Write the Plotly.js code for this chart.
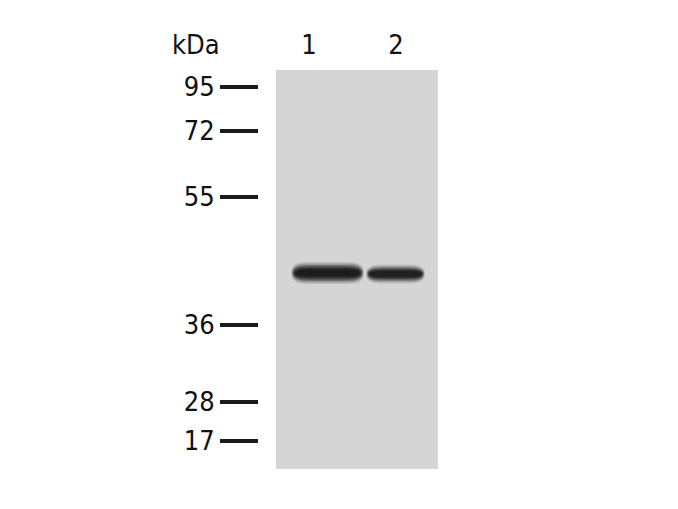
<!DOCTYPE html>
<html>
<head>
<meta charset="utf-8">
<script src="https://cdn.plot.ly/plotly-3.0.1.min.js"></script>
<style>
  body { margin: 0; background: #fff; }
  #blot { width: 678px; height: 509px; }
</style>
</head>
<body>
<div id="blot"></div>
<script>
// marker ladder: kDa and migration distance (px from top of membrane)
let marker_kda = ["95", "72", "55", "36", "28", "17"];
let marker_pos = [17, 61, 127, 255, 332, 371];

// lanes and the detected band in each
let lane_names = ["1", "2"];
let lane_x = [1, 2];
let band_center = [1.213, 1.994];
let band_width = [0.84, 0.68];
let band_pos = [203, 204];
let band_height = [22, 19];
let band_strength = [1.0, 0.9];

let membrane_len = 399;

function bandPath(xc, w, yc, h) {
    let x0 = xc - w / 2, x1 = xc + w / 2;
    let y0 = yc - h / 2, y1 = yc + h / 2;
    let r = Math.min(0.17, w / 4);
    return "M" + (x0 + r) + "," + y0 +
        " L" + (x1 - r) + "," + y0 +
        " Q" + x1 + "," + y0 + " " + x1 + "," + yc +
        " Q" + x1 + "," + y1 + " " + (x1 - r) + "," + y1 +
        " L" + (x0 + r) + "," + y1 +
        " Q" + x0 + "," + y1 + " " + x0 + "," + yc +
        " Q" + x0 + "," + y0 + " " + (x0 + r) + "," + y0 + " Z";
}

let shapes = [{
    type: 'rect', xref: 'paper', yref: 'paper',
    x0: 0.095, x1: 1, y0: 0, y1: 1,
    fillcolor: '#d5d5d5', line: { width: 0 }, layer: 'below'
}];

// soft edged bands, a few stacked layers each
let layers = [
    { wk: 1.0, hk: 1.0, op: 0.12 },
    { wk: 0.98, hk: 0.86, op: 0.2 },
    { wk: 0.96, hk: 0.72, op: 0.32 },
    { wk: 0.94, hk: 0.58, op: 0.45 },
    { wk: 0.91, hk: 0.44, op: 0.6 },
    { wk: 0.87, hk: 0.3, op: 0.6 }
];
for (let i = 0; i < lane_names.length; ++i) {
    layers.forEach(function (l) {
        shapes.push({
            type: 'path', xref: 'x', yref: 'y',
            path: bandPath(band_center[i], band_width[i] * l.wk, band_pos[i], band_height[i] * l.hk),
            fillcolor: 'rgba(20,20,20,' + (l.op * band_strength[i]) + ')',
            line: { width: 0 }
        });
    });
}

let ladder = {
    x: marker_pos.map(function () { return 0.5; }),
    y: marker_pos,
    mode: 'markers',
    marker: { opacity: 0 },
    hoverinfo: 'skip',
    showlegend: false
};

let label_font = { family: 'DejaVu Sans Condensed, DejaVu Sans, Liberation Sans, sans-serif', size: 27, color: '#111' };

let layout = {
    width: 678,
    height: 509,
    margin: { l: 259, r: 240, t: 70, b: 40 },
    paper_bgcolor: '#fff',
    plot_bgcolor: '#fff',
    showlegend: false,
    xaxis: {
        range: [0.425, 2.483],
        side: 'top',
        tickvals: lane_x,
        ticktext: lane_names,
        ticks: '',
        ticklabelstandoff: 10,
        showgrid: false, zeroline: false, showline: false,
        tickfont: label_font,
        fixedrange: true
    },
    yaxis: {
        range: [membrane_len, 0],
        tickvals: marker_pos,
        ticktext: marker_kda,
        ticks: 'outside',
        ticklen: 38,
        tickwidth: 4,
        tickcolor: '#1a1a1a',
        showgrid: false, zeroline: false, showline: false,
        tickfont: label_font,
        fixedrange: true
    },
    shapes: shapes,
    annotations: [{
        xref: 'paper', yref: 'paper',
        x: -0.352, y: 1, xanchor: 'center', yanchor: 'bottom', yshift: 8,
        text: 'kDa', showarrow: false, font: label_font
    }]
};

Plotly.newPlot('blot', [ladder], layout, { staticPlot: true });
</script>
</body>
</html>
